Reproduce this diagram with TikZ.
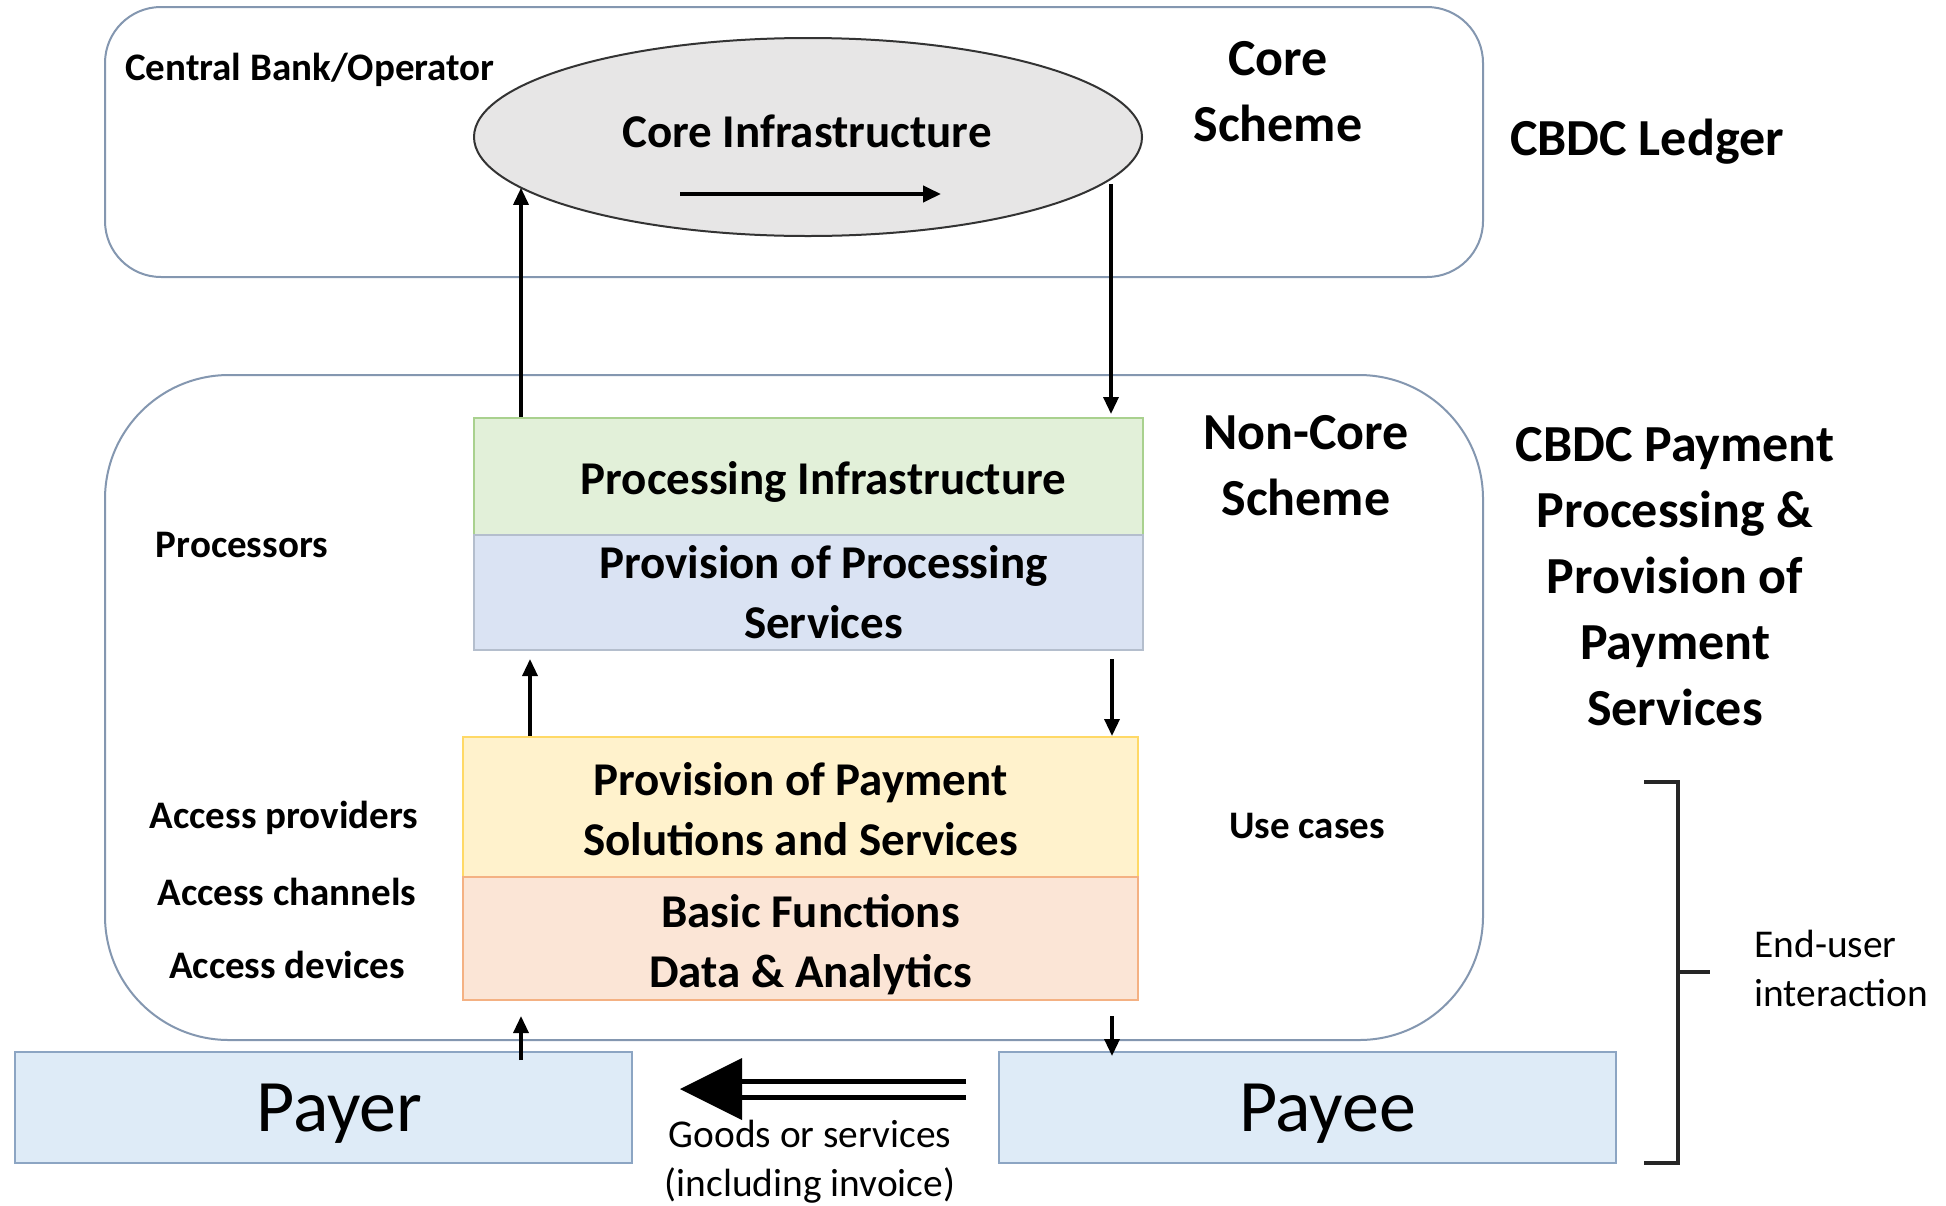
\documentclass[tikz,border=0pt]{standalone}
\usepackage{fontspec}
\setmainfont{Carlito}
\usetikzlibrary{arrows.meta,shapes.geometric,calc}
\definecolor{frameblue}{RGB}{132,151,176}
\definecolor{ellfill}{RGB}{231,230,230}
\definecolor{grnfill}{RGB}{226,240,217}
\definecolor{grnline}{RGB}{169,209,142}
\definecolor{blufill}{RGB}{218,227,243}
\definecolor{bluline}{RGB}{180,190,205}
\definecolor{yelfill}{RGB}{255,242,204}
\definecolor{yelline}{RGB}{255,217,102}
\definecolor{orafill}{RGB}{251,229,214}
\definecolor{oraline}{RGB}{244,177,131}
\definecolor{pfill}{RGB}{222,235,247}
\definecolor{pline}{RGB}{140,165,195}
\tikzset{
  frame/.style={draw=frameblue, line width=1pt, inner sep=0pt, minimum width=689pt},
  layer/.style={draw, line width=1pt, inner sep=0pt, align=center, font=\bfseries\fontsize{23.5}{30}\selectfont},
  party/.style={draw=pline, fill=pfill, line width=1pt, inner sep=0pt, minimum width=308.5pt, minimum height=55.5pt, font=\fontsize{37}{44}\selectfont},
  lbl/.style={inner sep=0pt, align=center, font=\bfseries\fontsize{19.5}{24}\selectfont},
  big/.style={inner sep=0pt, align=center, font=\bfseries\fontsize{26}{33}\selectfont},
  plain/.style={inner sep=0pt, align=center, font=\fontsize{19.7}{24.5}\selectfont},
  flow/.style={line width=1.7pt, -{Triangle[length=8.5pt,width=7.5pt]}},
}
\begin{document}
\begin{tikzpicture}[x=0.5pt,y=-0.5pt]
\useasboundingbox[fill=white] (0,0) rectangle (1946,1205);

% frames
\node[frame, rounded corners=28pt, minimum height=135pt] (ledger) at (794,142) {};
\node[frame, rounded corners=62pt, minimum height=332.5pt] (noncore) at (794,707.5) {};

% core ellipse
\node[ellipse, draw=black!80, fill=ellfill, line width=1pt, minimum width=334pt, minimum height=99pt, inner sep=0pt] (ell) at (808,137) {};
\node[inner sep=0pt, font=\bfseries\fontsize{23.5}{28}\selectfont] (coretxt) at (807,131) {Core Infrastructure};
\coordinate (cia) at (680,194);
\coordinate (cib) at (941,194);
\draw[line width=2pt, -{Triangle[length=9pt,width=8pt]}] (cia) -- (cib);

% layers
\node[layer, draw=grnline, fill=grnfill, minimum width=334.5pt, minimum height=58.5pt, text depth=0pt] (proc) at (808.5,476.5) {};
\node[layer, draw=bluline, fill=blufill, minimum width=334.5pt, minimum height=57.5pt] (procserv) at (808.5,592.5) {};
\node[layer, draw=yelline, fill=yelfill, minimum width=337.5pt, minimum height=70pt] (paysol) at (800.5,807) {};
\node[layer, draw=oraline, fill=orafill, minimum width=337.5pt, minimum height=61.5pt] (basic) at (800.5,938.5) {};
\node[layer, draw=none] (proctxt) at ($(proc)+(15,5)$) {Processing Infrastructure};
\node[layer, draw=none] (procservtxt) at ($(procserv)+(15,0)$) {Provision of Processing\\Services};
\node[layer, draw=none] (paysoltxt) at ($(paysol)+(0,2)$) {Provision of Payment\\Solutions and Services};
\node[layer, draw=none] (basictxt) at ($(basic)+(10,6)$) {Basic Functions\\Data \& Analytics};

% payer / payee
\node[party] (payer) at (323.5,1107.5) {};
\node[party] (payee) at (1307.5,1107.5) {};
\node[inner sep=0pt, font=\fontsize{37}{44}\selectfont] (payertxt) at ($(payer)+(16,6)$) {Payer};
\node[inner sep=0pt, font=\fontsize{37}{44}\selectfont] (payeetxt) at ($(payee)+(20,6)$) {Payee};

% labels
\node[lbl] (cbo) at (310,70) {Central Bank/Operator};
\node[big] (cs) at (1278,92) {Core\\Scheme};
\node[big] (ledgerlbl) at (1647,142) {CBDC Ledger};
\node[big] (ncs) at (1306,466) {Non-Core\\Scheme};
\node[big] (payproc) at (1675,577) {CBDC Payment\\Processing \&\\Provision of\\Payment\\Services};
\node[lbl] (processors) at (242,545) {Processors};
\node[lbl] (accprov) at (284,818) {Access providers};
\node[lbl] (accchan) at (287,892) {Access channels};
\node[lbl] (accdev) at (287,965) {Access devices};
\node[lbl] (usecases) at (1307,826) {Use cases};
\node[plain] (goods) at (810,1162) {Goods or services\\(including invoice)};
\node[plain, anchor=west, align=left] (enduser) at (1754,968) {End-user\\interaction};

% vertical flows
\coordinate (xl) at (521,0);
\coordinate (xr) at (1111,0);
\coordinate (xl2) at (530,0);
\coordinate (xr2) at (1112,0);
\draw[flow] (xl |- proc.north) -- (xl |- ell.190);
\draw[flow] (xr |- ell.-9) -- ($(xr |- proc.north)+(0,-3)$);
\draw[flow, shorten >=4pt] (xl2 |- paysol.north) -- (xl2 |- procserv.south);
\draw[flow, shorten <=4pt] (xr2 |- procserv.south) -- (xr2 |- paysol.north);
\draw[flow, shorten <=-4.5pt, shorten >=7.5pt] (xl |- payer.north) -- (xl |- basic.south);
\draw[flow, shorten <=7.5pt, shorten >=-2.5pt] (xr2 |- basic.south) -- (xr2 |- payee.north);

% goods double arrow
\coordinate (gs) at (966,1089);
\coordinate (ge) at (680,1089);
\draw[line width=2.5pt] ($(gs)+(0,-8)$) -- ($(ge)+(58,-8)$);
\draw[line width=2.5pt] ($(gs)+(0,8)$) -- ($(ge)+(58,8)$);
\fill (ge) -- ($(ge)+(62,-31)$) -- ($(ge)+(62,31)$) -- cycle;

% bracket
\coordinate (bt) at (1644,782);
\coordinate (bb) at (1644,1163);
\coordinate (bm) at (1710,972);
\draw[line width=1.6pt, black!85] (bt) -- (1678,782) -- (1678,1163) -- (bb);
\draw[line width=1.6pt, black!85] (1678,972) -- (bm);
\end{tikzpicture}
\end{document}
